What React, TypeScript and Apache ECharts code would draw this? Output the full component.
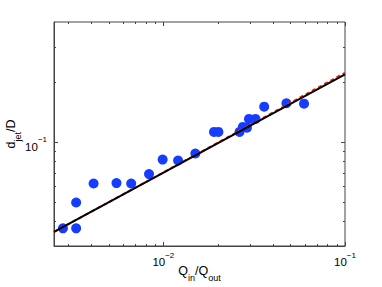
import React, { useEffect, useRef } from "react";
import * as echarts from "echarts";

// Measured points (Q_in/Q_out, d_jet/D)
const qRatio = [0.0028, 0.00331, 0.00331, 0.00413, 0.00552, 0.00665, 0.00834, 0.00991, 0.01205, 0.015, 0.019, 0.0201, 0.02626, 0.0274, 0.02884, 0.0296, 0.03216, 0.0359, 0.0476, 0.0595];
const dJet = [0.0368, 0.0368, 0.0496, 0.0618, 0.0621, 0.0618, 0.0689, 0.0815, 0.0806, 0.0874, 0.1122, 0.1122, 0.1122, 0.1189, 0.1179, 0.1304, 0.1304, 0.1503, 0.1563, 0.1556];

// Fit line (solid black)
const fitQ = [0.0025, 0.1];
const fitD = [0.0353, 0.218];
// Model curve (red dashed)
const modelQ = [0.0025, 0.01, 0.03, 0.1];
const modelD = [0.0353, 0.0702, 0.1215, 0.2225];

// Axis ranges and ticks
const xMin = 0.0025, xMax = 0.1;
const yMin = 0.03, yMax = 0.4;
const xMajorTicks = [0.01, 0.1];
const xMinorTicks = [0.003, 0.004, 0.005, 0.006, 0.007, 0.008, 0.009, 0.02, 0.03, 0.04, 0.05, 0.06, 0.07, 0.08, 0.09];
const yMajorTicks = [0.1];
const yMinorTicks = [0.04, 0.05, 0.06, 0.07, 0.08, 0.09, 0.2, 0.3];

const FONT = "'Liberation Sans', Arial, Helvetica, sans-serif";
const AXIS_COLOR = "#444";

function powLabel(v: number): string {
  const e = Math.log10(v);
  const r = Math.round(e);
  if (Math.abs(e - r) > 1e-6) return "";
  return `{b|10}{s|${r < 0 ? "\u2212" : ""}${Math.abs(r)}}`;
}

const tickRich = {
  b: { fontSize: 11.5, lineHeight: 12, padding: [5, 0, 0, 0], verticalAlign: "top", fontFamily: FONT, color: "#000" },
  s: { fontSize: 8, lineHeight: 8, verticalAlign: "top", fontFamily: FONT, color: "#000" },
};
const nameRich = {
  b: { fontSize: 12.5, lineHeight: 14, verticalAlign: "top", fontFamily: FONT, color: "#000" },
  s: { fontSize: 9, lineHeight: 9, padding: [9, 0, 0, 0], verticalAlign: "top", fontFamily: FONT, color: "#000" },
};

export default function App() {
  const ref = useRef<HTMLDivElement>(null);
  useEffect(() => {
    if (!ref.current) return;
    const chart = echarts.init(ref.current, undefined, { renderer: "svg" });
    const xTickData = [
      ...xMajorTicks.map((v) => [v, yMin, 1]),
      ...xMinorTicks.map((v) => [v, yMin, 0]),
    ];
    const yTickData = [
      ...yMajorTicks.map((v) => [xMin, v, 1]),
      ...yMinorTicks.map((v) => [xMin, v, 0]),
    ];
    const tickStyle = { stroke: AXIS_COLOR, lineWidth: 1 };
    chart.setOption({
      animation: false,
      grid: {
        left: 54, right: 37, top: 22, bottom: 41,
        containLabel: false,
        outerBoundsMode: "none",
        show: true, borderColor: AXIS_COLOR, borderWidth: 1, backgroundColor: "#fff",
      },
      xAxis: {
        type: "log",
        logBase: 10,
        min: xMin,
        max: xMax,
        axisLine: { show: true, lineStyle: { color: AXIS_COLOR } },
        axisTick: { show: false },
        splitLine: { show: false },
        axisLabel: { formatter: powLabel, margin: 5, rich: tickRich },
        name: "{b|Q}{s|in}{b|/Q}{s|out}",
        nameLocation: "middle",
        nameGap: 18,
        nameMoveOverlap: false,
        nameTextStyle: { rich: nameRich },
      },
      yAxis: {
        type: "log",
        logBase: 10,
        min: yMin,
        max: yMax,
        axisLine: { show: true, lineStyle: { color: AXIS_COLOR } },
        axisTick: { show: false },
        splitLine: { show: false },
        axisLabel: { formatter: powLabel, margin: 7, rich: tickRich },
        name: "{b|d}{s|jet}{b|/D}",
        nameLocation: "middle",
        nameGap: 36,
        nameMoveOverlap: false,
        nameTextStyle: { rich: nameRich },
      },
      series: [
        {
          type: "custom",
          silent: true,
          data: xTickData,
          renderItem: (params: any, api: any) => {
            const cs = params.coordSys;
            const p = api.coord([api.value(0), api.value(1)]);
            const len = api.value(2) ? 4 : 2;
            const x = Math.round(p[0]) + 0.5;
            const b = cs.y + cs.height;
            return {
              type: "group",
              children: [
                { type: "line", shape: { x1: x, y1: b, x2: x, y2: b - len }, style: tickStyle },
                { type: "line", shape: { x1: x, y1: cs.y, x2: x, y2: cs.y + len }, style: tickStyle },
              ],
            };
          },
        },
        {
          type: "custom",
          silent: true,
          data: yTickData,
          renderItem: (params: any, api: any) => {
            const cs = params.coordSys;
            const p = api.coord([api.value(0), api.value(1)]);
            const len = api.value(2) ? 4 : 2;
            const y = Math.round(p[1]) + 0.5;
            const r = cs.x + cs.width;
            return {
              type: "group",
              children: [
                { type: "line", shape: { x1: cs.x, y1: y, x2: cs.x + len, y2: y }, style: tickStyle },
                { type: "line", shape: { x1: r, y1: y, x2: r - len, y2: y }, style: tickStyle },
              ],
            };
          },
        },
        {
          type: "scatter",
          data: qRatio.map((q, i) => [q, dJet[i]]),
          symbol: "circle",
          symbolSize: 10,
          itemStyle: { color: "#163cff", opacity: 1 },
          z: 3,
        },
        {
          type: "line",
          data: modelQ.map((q, i) => [q, modelD[i]]),
          showSymbol: false,
          lineStyle: { color: "#ff2a00", width: 2, type: [4, 3] },
          z: 4,
        },
        {
          type: "line",
          data: fitQ.map((q, i) => [q, fitD[i]]),
          showSymbol: false,
          lineStyle: { color: "#000", width: 2 },
          z: 5,
        },
      ],
    });
    return () => chart.dispose();
  }, []);
  return <div ref={ref} style={{ position: "fixed", left: 0, top: 0, width: 382, height: 287, background: "#fff" }} />;
}
